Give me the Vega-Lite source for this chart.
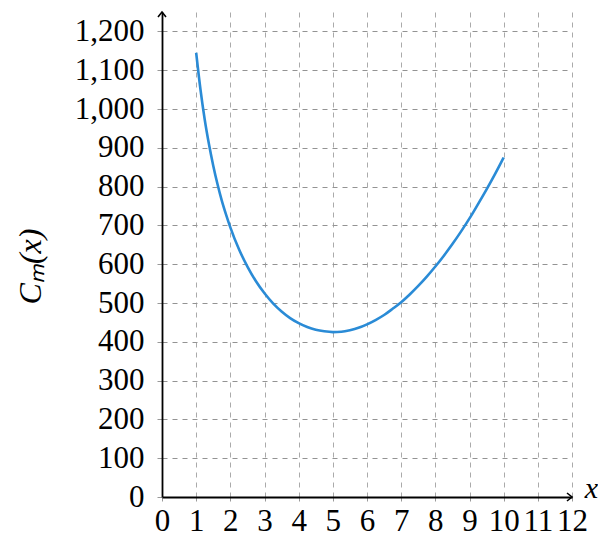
{
  "$schema": "https://vega.github.io/schema/vega-lite/v6.json",
  "width": 410,
  "height": 485,
  "autosize": "none",
  "padding": {"left": 162, "top": 12, "right": 26, "bottom": 41},
  "background": "white",
  "config": {
    "view": {"stroke": null},
    "axis": {
      "labelFont": "Times New Roman, Liberation Serif, serif",
      "labelFontSize": 31,
      "labelColor": "#000000",
      "titleFont": "Times New Roman, Liberation Serif, serif",
      "titleFontWeight": "normal",
      "titleColor": "#000000",
      "domainColor": "#000000",
      "domainWidth": 1.8,
      "tickColor": "#999999",
      "tickWidth": 1,
      "gridDash": [5, 5],
      "gridWidth": 1
    }
  },
  "encoding": {
    "x": {
      "field": "x", "type": "quantitative",
      "scale": {"domain": [0, 12], "nice": false, "zero": false},
      "axis": {
        "values": [0, 1, 2, 3, 4, 5, 6, 7, 8, 9, 10, 11, 12],
        "format": "d",
        "grid": true,
        "gridColor": "#aaaaaa",
        "tickSize": 4,
        "labelPadding": 5,
        "labelFlush": false,
        "labelOverlap": false,
        "title": "x",
        "titleFontStyle": "italic",
        "titleFontSize": 30,
        "titleAngle": 0,
        "titleAlign": "center",
        "titleBaseline": "middle",
        "titleX": 429,
        "titleY": -9
      }
    },
    "y": {
      "field": "y", "type": "quantitative",
      "scale": {"domain": [0, 1250], "nice": false},
      "axis": {
        "values": [0, 100, 200, 300, 400, 500, 600, 700, 800, 900, 1000, 1100, 1200],
        "format": ",d",
        "grid": true,
        "gridColor": "#939393",
        "tickSize": 5,
        "labelPadding": 13,
        "labelFlush": false,
        "labelOverlap": false,
        "title": "Cₘ(x)",
        "titleFontStyle": "italic",
        "titleFontSize": 32,
        "titleAngle": -90,
        "titleAlign": "center",
        "titleBaseline": "middle",
        "titleX": -132,
        "titleY": 254
      }
    }
  },
  "layer": [
    {
      "data": {
        "values": [
          {"x": 1, "y": 1145}, {"x": 1.125, "y": 1051}, {"x": 1.25, "y": 973},
          {"x": 1.375, "y": 909}, {"x": 1.5, "y": 854}, {"x": 1.625, "y": 806},
          {"x": 1.75, "y": 764}, {"x": 1.875, "y": 728}, {"x": 2, "y": 695},
          {"x": 2.25, "y": 639}, {"x": 2.5, "y": 594}, {"x": 2.75, "y": 556},
          {"x": 3, "y": 525}, {"x": 3.25, "y": 499}, {"x": 3.5, "y": 478},
          {"x": 3.75, "y": 461}, {"x": 4, "y": 448}, {"x": 4.25, "y": 438},
          {"x": 4.5, "y": 431}, {"x": 4.75, "y": 427}, {"x": 5, "y": 425},
          {"x": 5.25, "y": 426}, {"x": 5.5, "y": 430}, {"x": 5.75, "y": 436},
          {"x": 6, "y": 445}, {"x": 6.25, "y": 456}, {"x": 6.5, "y": 469},
          {"x": 6.75, "y": 485}, {"x": 7, "y": 502}, {"x": 7.25, "y": 522},
          {"x": 7.5, "y": 544}, {"x": 7.75, "y": 568}, {"x": 8, "y": 594},
          {"x": 8.25, "y": 622}, {"x": 8.5, "y": 652}, {"x": 8.75, "y": 684},
          {"x": 9, "y": 718}, {"x": 9.25, "y": 755}, {"x": 9.5, "y": 793},
          {"x": 9.75, "y": 833}, {"x": 10, "y": 875}
        ]
      },
      "mark": {"type": "line", "color": "#2a8bd6", "strokeWidth": 2.6, "interpolate": "monotone"}
    },
    {
      "data": {
        "values": [
          {"x": 12, "y": 0, "dir": "right"},
          {"x": 0, "y": 1250, "dir": "up"}
        ]
      },
      "mark": {"type": "point", "filled": false, "stroke": "#000000", "strokeWidth": 1.6, "size": 100, "opacity": 1},
      "encoding": {
        "shape": {
          "field": "dir", "type": "nominal",
          "scale": {"domain": ["right", "up"], "range": ["M-1,-0.8L0,0L-1,0.8", "M-0.8,1L0,0L0.8,1"]},
          "legend": null
        }
      }
    }
  ]
}
